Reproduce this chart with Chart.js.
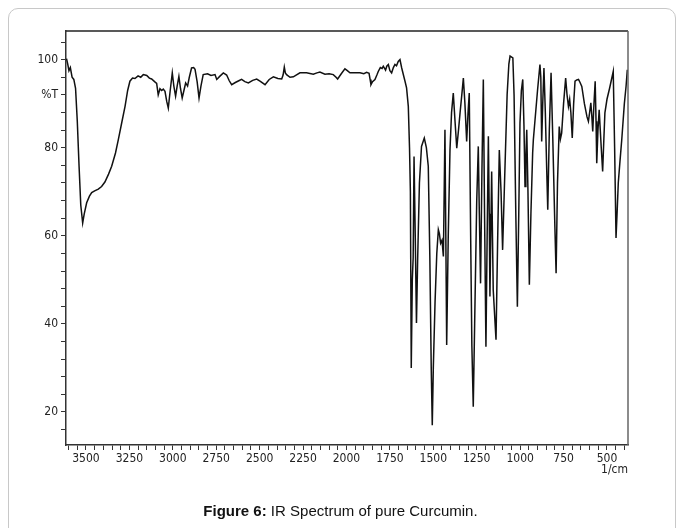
<!DOCTYPE html>
<html>
<head>
<meta charset="utf-8">
<script src="https://cdn.jsdelivr.net/npm/chart.js@4.4.1/dist/chart.umd.min.js"></script>
<style>
  html, body { margin: 0; padding: 0; background: #fff; }
  body { width: 681px; height: 528px; position: relative; overflow: hidden; }
  #card { position: absolute; left: 8px; top: 8px; width: 668px; height: 560px;
          border: 1px solid #c8c8c8; border-radius: 10px; box-sizing: border-box; }
  #wrap { position: absolute; left: 0; top: 0; width: 681px; height: 528px; }
  #caption { position: absolute; left: 0; width: 681px; top: 502px; text-align: center;
             font-family: "Liberation Sans", Arial, sans-serif; font-size: 15px; color: #111; }
</style>
</head>
<body>
<div id="card"></div>
<div id="wrap"><canvas id="irChart"></canvas></div>
<div id="caption"><b>Figure 6:</b> IR Spectrum of pure Curcumin.</div>
<script>
// espectro IR (numero de onda em 1/cm, transmitancia em %T)
var wavenumbers = [
  3612, 3605, 3598, 3590, 3580, 3570, 3560, 3550, 3540, 3530, 3519, 3510, 3496, 3480, 3467, 3450,
  3429, 3410, 3391, 3370, 3352, 3330, 3314, 3295, 3275, 3260, 3247, 3232, 3218, 3200, 3185, 3170,
  3150, 3135, 3122, 3105, 3093, 3084, 3074, 3064, 3055, 3045, 3035, 3026, 3015, 3003, 2994, 2984,
  2975, 2965, 2956, 2946, 2936, 2926, 2915, 2905, 2892, 2880, 2872, 2860, 2849, 2838, 2825, 2800,
  2780, 2757, 2747, 2730, 2709, 2690, 2675, 2661, 2640, 2620, 2604, 2585, 2565, 2540, 2517, 2498,
  2469, 2445, 2421, 2395, 2373, 2365, 2358, 2352, 2345, 2325, 2306, 2268, 2230, 2191, 2170, 2153,
  2124, 2100, 2076, 2060, 2051, 2030, 2009, 1995, 1980, 1950, 1922, 1900, 1884, 1870, 1864, 1859,
  1850, 1836, 1825, 1817, 1805, 1795, 1788, 1775, 1768, 1759, 1750, 1740, 1730, 1721, 1712, 1702,
  1692, 1682, 1672, 1663, 1654, 1644, 1637, 1632, 1627, 1621, 1616, 1611, 1604, 1597, 1590, 1580,
  1568, 1552, 1540, 1529, 1520, 1512, 1506, 1500, 1490, 1480, 1471, 1465, 1458, 1450, 1442, 1433,
  1428, 1423, 1414, 1404, 1395, 1385, 1375, 1365, 1355, 1346, 1336, 1327, 1318, 1308, 1300, 1293,
  1285, 1278, 1270, 1262, 1250, 1241, 1235, 1228, 1220, 1212, 1205, 1197, 1190, 1183, 1178, 1174,
  1169, 1164, 1160, 1155, 1147, 1139, 1130, 1120, 1110, 1101, 1090, 1075, 1065, 1058, 1042, 1035,
  1025, 1016, 1008, 1001, 993, 985, 978, 972, 967, 962, 955, 947, 938, 928, 924, 915,
  900, 886, 881, 876, 870, 863, 855, 847, 841, 832, 822, 812, 800, 793, 785, 775,
  768, 761, 750, 738, 730, 722, 715, 708, 700, 692, 684, 674, 664, 655, 645, 630,
  615, 607, 600, 593, 587, 582, 575, 568, 563, 559, 552, 545, 540, 533, 525, 518,
  512, 500, 485, 464, 456, 448, 441, 435, 425, 415, 400, 390, 383
];
var transmittance = [
  100.2, 99, 97.5, 98.2, 96, 95.5, 93.5, 86, 76, 67, 62.9, 65, 67.5, 69, 69.8, 70.2,
  70.6, 71.2, 72.2, 74, 75.8, 78.8, 81.8, 85.5, 89.4, 93, 95.1, 95.8, 95.7, 96.3, 96, 96.6,
  96.4, 95.8, 95.6, 95, 94.6, 92, 93.4, 93, 93.3, 92.8, 90.5, 89, 93, 97, 94, 91.7,
  94, 96.2, 93.5, 91.3, 93, 94.7, 94, 96, 98.1, 98.2, 97.8, 95, 91.3, 94, 96.6, 96.8,
  96.4, 96.6, 95.5, 96.2, 97, 96.5, 95.2, 94.3, 94.8, 95.2, 95.5, 95, 94.7, 95.3, 95.6, 95.1,
  94.3, 95.5, 96.1, 95.7, 95.6, 96.5, 98.3, 97, 96.6, 96, 96.1, 97, 97, 96.7, 97, 97.2,
  96.7, 96.8, 96.6, 96, 95.6, 96.8, 97.9, 97.5, 97, 97, 97, 96.8, 97.1, 96.9, 95.5, 94.3,
  95, 95.5, 96.5, 97.3, 98.2, 98, 98.5, 97.6, 98.5, 98.9, 97.5, 97, 98.2, 98.9, 98.6, 99.6,
  100, 98.1, 96.5, 95.1, 93.6, 89.4, 80, 70, 30, 50, 55, 78, 60, 40.2, 55, 72,
  80.3, 82.2, 80, 75.8, 55, 30, 17, 30, 45, 56, 61.4, 60.5, 58.3, 59, 55.3, 84.1,
  60, 35.2, 60, 79.5, 88, 92.4, 86, 79.9, 84, 87.9, 92, 95.8, 90, 81.4, 88, 92.4,
  60, 35, 21.2, 40, 68, 80.3, 65, 49.2, 75, 95.5, 65, 34.8, 60, 82.6, 65, 46.2,
  60, 74.6, 62, 47.7, 42, 36.4, 58, 79.5, 70, 56.8, 72, 92, 99, 100.8, 100.4, 92,
  65, 43.9, 65, 85.6, 93, 95.5, 85, 71.2, 78, 84.1, 70, 48.9, 65, 78.8, 81.8, 86,
  93, 98.9, 96, 81.4, 90, 98.1, 88, 75, 65.9, 84, 97, 82, 62, 51.5, 72, 84.8,
  82, 83.3, 90, 95.8, 92, 89.4, 91, 88, 82.2, 90, 95.1, 95.4, 95.5, 94.8, 93.9, 90,
  87, 86, 88, 90.2, 87, 83.7, 90, 95.1, 86, 76.5, 84, 88.6, 85, 80, 74.6, 82,
  87.9, 91, 93.5, 97.3, 80, 59.5, 66, 72, 77, 81.8, 90, 94, 97.7
];

// marcas dos eixos
var xTickValues = [];
for (var v = 400; v <= 3600; v += 50) xTickValues.push(v);
var yTickValues = [16, 20, 24, 28, 32, 36, 40, 44, 48, 52, 56, 60, 64, 68, 72, 76, 80, 84, 88, 92, 96, 100, 104];

var pontos = wavenumbers.map(function (w, i) { return { x: w, y: transmittance[i] }; });

var tickFont = { family: "'Liberation Sans Narrow', 'DejaVu Sans Condensed', sans-serif", size: 12 };

// moldura do grafico + rotulo 1/cm
var molduraPlugin = {
  id: 'moldura',
  afterDraw: function (chart) {
    var ctx = chart.ctx, a = chart.chartArea;
    ctx.save();
    ctx.strokeStyle = '#222';
    ctx.lineWidth = 1.5;
    ctx.beginPath();
    ctx.moveTo(a.left, a.top);
    ctx.lineTo(a.right, a.top);
    ctx.stroke();
    ctx.strokeStyle = '#666';
    ctx.beginPath();
    ctx.moveTo(a.right, a.top);
    ctx.lineTo(a.right, a.bottom);
    ctx.stroke();
    ctx.fillStyle = '#222';
    ctx.font = "12px " + tickFont.family;
    ctx.textAlign = 'right';
    ctx.textBaseline = 'top';
    ctx.fillText('1/cm', a.right, a.bottom + 19);
    ctx.restore();
  }
};

var irCanvas = document.getElementById('irChart').getContext('2d');

var irChart = new Chart(irCanvas, {
  type: 'line',
  data: {
    datasets: [{
      data: pontos,
      borderColor: '#111',
      borderWidth: 1.5,
      pointRadius: 0,
      tension: 0,
      fill: false
    }]
  },
  options: {
    responsive: true,
    maintainAspectRatio: false,
    animation: false,
    layout: { padding: { left: 10, right: 53, top: 31, bottom: 53 } },
    plugins: { legend: { display: false }, tooltip: { enabled: false } },
    scales: {
      x: {
        type: 'linear',
        reverse: true,
        min: 379,
        max: 3615,
        afterBuildTicks: function (axis) { axis.ticks = xTickValues.map(function (t) { return { value: t }; }); },
        afterFit: function (axis) { axis.height = 30; },
        grid: { drawOnChartArea: false, drawTicks: true, tickLength: 5, color: '#333' },
        border: { display: true, color: '#333', width: 1.5 },
        ticks: {
          autoSkip: false,
          maxRotation: 0,
          padding: 2,
          color: '#222',
          font: tickFont,
          callback: function (value) { return value % 250 === 0 ? String(value) : ''; }
        }
      },
      y: {
        min: 12.5,
        max: 106.5,
        afterBuildTicks: function (axis) { axis.ticks = yTickValues.map(function (t) { return { value: t }; }); },
        afterFit: function (axis) { axis.width = 56; },
        grid: { drawOnChartArea: false, drawTicks: true, tickLength: 5, color: '#333' },
        border: { display: true, color: '#333', width: 1.5 },
        ticks: {
          autoSkip: false,
          padding: 3,
          color: '#222',
          font: tickFont,
          callback: function (value) {
            if (value === 92) return '%T';
            return value % 20 === 0 ? String(value) : '';
          }
        }
      }
    }
  },
  plugins: [molduraPlugin]
});
</script>
</body>
</html>
